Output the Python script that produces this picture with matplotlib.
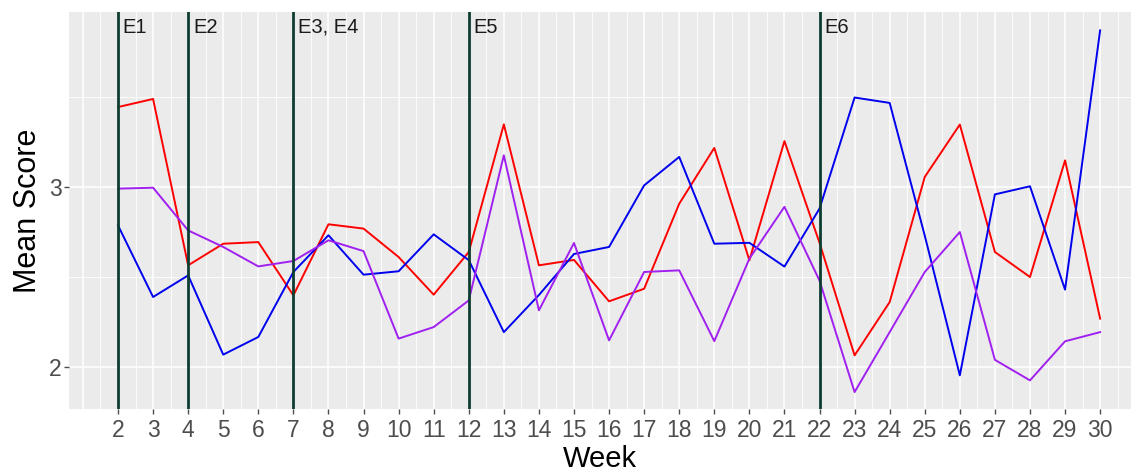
import matplotlib
matplotlib.use("Agg")
import matplotlib.pyplot as plt
import numpy as np
from matplotlib.ticker import FixedLocator

plt.rcParams['font.family'] = ['Liberation Sans', 'DejaVu Sans']

weeks = list(range(2, 31))
red_scores = [3.444, 3.489, 2.565, 2.685, 2.694, 2.398, 2.793, 2.769, 2.611, 2.402,
              2.639, 3.348, 2.565, 2.595, 2.365, 2.435, 2.907, 3.217, 2.593, 3.255,
              2.690, 2.065, 2.361, 3.056, 3.347, 2.639, 2.500, 3.148, 2.269]
blue_scores = [2.787, 2.389, 2.509, 2.069, 2.167, 2.528, 2.732, 2.513, 2.532, 2.737,
               2.594, 2.194, 2.400, 2.628, 2.667, 3.009, 3.167, 2.685, 2.690, 2.558,
               2.880, 3.497, 3.467, 2.730, 1.954, 2.959, 3.004, 2.430, 3.870]
purple_scores = [2.991, 2.996, 2.759, 2.667, 2.559, 2.589, 2.704, 2.644, 2.158, 2.222,
                 2.370, 3.176, 2.315, 2.689, 2.148, 2.528, 2.537, 2.144, 2.602, 2.890,
                 2.480, 1.861, 2.194, 2.528, 2.750, 2.040, 1.926, 2.143, 2.194]
event_weeks = [2, 4, 7, 12, 22]
event_labels = ["E1", "E2", "E3, E4", "E5", "E6"]
y_ticks = [2, 3]

fig = plt.figure(figsize=(11.38, 4.74), dpi=100)
ax = fig.add_axes([69/1138, 65/474, (1131-69)/1138, (409-12)/474])
ax.set_facecolor("#EBEBEB")
for s in ax.spines.values():
    s.set_visible(False)

ax.set_xlim(0.603, 30.88)
ax.set_ylim(1.767, 3.972)

# grid
for xv in np.arange(0.5, 31.5, 0.5):
    major = float(xv).is_integer()
    ax.axvline(xv, color="white", lw=1.1 if major else 0.6, zorder=0)
for yv in [2, 3]:
    ax.axhline(yv, color="white", lw=1.1, zorder=0)
for yv in [2.5, 3.5]:
    ax.axhline(yv, color="white", lw=0.6, zorder=0)

ax.plot(weeks, red_scores, color="#FF0000", lw=1.4, zorder=3)
ax.plot(weeks, blue_scores, color="#0000EE", lw=1.4, zorder=3)
ax.plot(weeks, purple_scores, color="#A020F0", lw=1.4, zorder=3)

for w, lab in zip(event_weeks, event_labels):
    ax.axvline(w, color="#0B3D30", lw=2.0, zorder=4)
    ax.annotate(lab, xy=(w, 1), xycoords=("data", "axes fraction"),
                xytext=(3.5, -4), textcoords="offset points",
                ha="left", va="top", fontsize=14.5, color="#1a1a1a", zorder=5)

ax.xaxis.set_major_locator(FixedLocator(weeks))
ax.set_xticklabels([str(w) for w in weeks])
ax.yaxis.set_major_locator(FixedLocator(y_ticks))
ax.set_yticklabels([str(v) for v in y_ticks])
ax.tick_params(axis="both", colors="#4D4D4D", labelsize=16.5, length=3.5, width=1.0)
ax.tick_params(axis="x", pad=4)
ax.tick_params(axis="y", pad=2)

ax.set_xlabel("Week", fontsize=21, color="black", labelpad=2)
ax.set_ylabel("Mean Score", fontsize=22, color="black", labelpad=4)

fig.savefig("out.png", dpi=100, facecolor="white")
